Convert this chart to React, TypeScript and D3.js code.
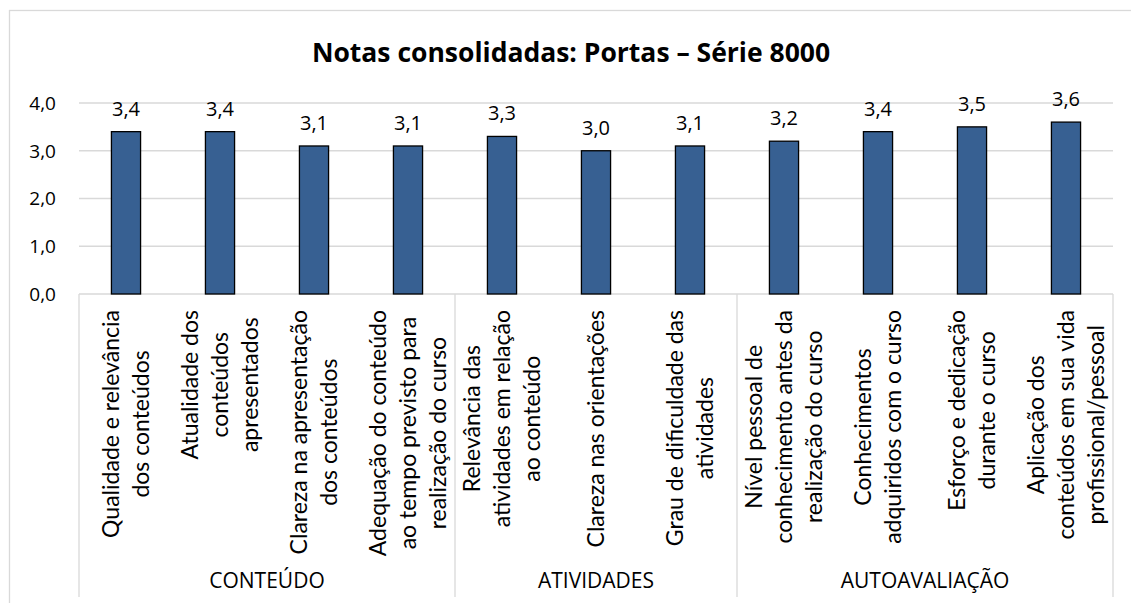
import React, { useEffect, useRef } from 'react';
import * as d3 from 'd3';

const title = 'Notas consolidadas: Portas – Série 8000';

const groups = ['CONTEÚDO', 'ATIVIDADES', 'AUTOAVALIAÇÃO'];

const categoryLines = [
  ['Qualidade e relevância', 'dos conteúdos'],
  ['Atualidade dos', 'conteúdos', 'apresentados'],
  ['Clareza na apresentação', 'dos conteúdos'],
  ['Adequação do conteúdo', 'ao tempo previsto para', 'realização do curso'],
  ['Relevância das', 'atividades em relação', 'ao conteúdo'],
  ['Clareza nas orientações'],
  ['Grau de dificuldade das', 'atividades'],
  ['Nível pessoal de', 'conhecimento antes da', 'realização do curso'],
  ['Conhecimentos', 'adquiridos com o curso'],
  ['Esforço e dedicação', 'durante o curso'],
  ['Aplicação dos', 'conteúdos em sua vida', 'profissional/pessoal'],
];

const categoryGroup = [0, 0, 0, 0, 1, 1, 1, 2, 2, 2, 2];

const values = [3.4, 3.4, 3.1, 3.1, 3.3, 3.0, 3.1, 3.2, 3.4, 3.5, 3.6];

const yTicks = [0, 1, 2, 3, 4];

const fmt = (v: number) => v.toFixed(1).replace('.', ',');

const HFONT = '"Open Sans", sans-serif';
const VFONT = 'Lato, sans-serif';

export default function App() {
  const ref = useRef<SVGSVGElement | null>(null);

  useEffect(() => {
    const svg = d3.select(ref.current);
    svg.selectAll('*').remove();

    const width = 1131, height = 603;
    const left = 79, right = 1113, top = 103, bottom = 294;

    // chart frame (right and bottom edges fall outside the picture)
    svg.append('rect')
      .attr('x', 9.5).attr('y', 10.5)
      .attr('width', width + 20).attr('height', height + 20)
      .attr('fill', '#fff').attr('stroke', '#d9d9d9').attr('stroke-width', 1.3);

    svg.append('text')
      .attr('x', 571).attr('y', 62)
      .attr('text-anchor', 'middle')
      .style('font', `bold 26.5px ${HFONT}`)
      .attr('fill', '#000')
      .text(title);

    const y = d3.scaleLinear().domain([0, 4]).range([bottom, top]);
    const x = d3.scaleBand<number>()
      .domain(values.map((_, i) => i))
      .range([left, right])
      .paddingInner(0.69)
      .paddingOuter(0.345);
    const step = x.step();

    // gridlines
    svg.append('g').selectAll('line')
      .data(yTicks.slice(1))
      .enter().append('line')
        .attr('x1', left).attr('x2', right)
        .attr('y1', d => y(d)).attr('y2', d => y(d))
        .attr('stroke', '#d9d9d9').attr('stroke-width', 1.3);

    svg.append('g').selectAll('text')
      .data(yTicks)
      .enter().append('text')
        .attr('x', 56)
        .attr('y', d => y(d))
        .attr('dy', '0.36em')
        .attr('text-anchor', 'end')
        .style('font', `19px ${HFONT}`)
        .attr('fill', '#000')
        .text(d => fmt(d));

    // category axis: baseline and group separators
    svg.append('line')
      .attr('x1', left).attr('x2', right)
      .attr('y1', bottom).attr('y2', bottom)
      .attr('stroke', '#d9d9d9').attr('stroke-width', 1.3);

    const bounds = [0];
    categoryGroup.forEach((g, i) => {
      if (i === categoryGroup.length - 1 || categoryGroup[i + 1] !== g) bounds.push(i + 1);
    });
    svg.append('g').selectAll('line')
      .data(bounds)
      .enter().append('line')
        .attr('x1', d => left + d * step).attr('x2', d => left + d * step)
        .attr('y1', bottom).attr('y2', 597)
        .attr('stroke', '#d9d9d9').attr('stroke-width', 1.3);

    svg.append('g').selectAll('text')
      .data(groups)
      .enter().append('text')
        .attr('x', (d, i) => left + (bounds[i] + bounds[i + 1]) / 2 * step)
        .attr('y', 588)
        .attr('text-anchor', 'middle')
        .style('font', `21px ${HFONT}`)
        .attr('fill', '#000')
        .text(d => d);

    // bars
    svg.append('g').selectAll('rect')
      .data(values)
      .enter().append('rect')
        .attr('x', (d, i) => x(i)!)
        .attr('y', d => y(d))
        .attr('width', x.bandwidth())
        .attr('height', d => bottom - y(d))
        .attr('fill', '#376092')
        .attr('stroke', '#000')
        .attr('stroke-width', 1.3);

    svg.append('g').selectAll('text')
      .data(values)
      .enter().append('text')
        .attr('x', (d, i) => x(i)! + x.bandwidth() / 2)
        .attr('y', d => y(d) - 16)
        .attr('text-anchor', 'middle')
        .style('font', `20px ${HFONT}`)
        .attr('fill', '#000')
        .text(d => fmt(d));

    // rotated category labels, lines centred, block starting under the axis
    const lineGap = 30;
    categoryLines.forEach((lines, i) => {
      const cx = x(i)! + x.bandwidth() / 2;
      const g = svg.append('g');
      const texts = g.selectAll('text')
        .data(lines)
        .enter().append('text')
          .attr('x', 0)
          .attr('y', (d, j) => (j - (lines.length - 1) / 2) * lineGap)
          .attr('dy', '0.36em')
          .attr('text-anchor', 'middle')
          .style('font', `23px ${VFONT}`)
          .attr('fill', '#000')
          .text(d => d);
      let maxLen = 0;
      texts.each(function () {
        maxLen = Math.max(maxLen, (this as SVGTextElement).getComputedTextLength());
      });
      g.attr('transform', `translate(${cx},${310 + maxLen / 2}) rotate(-90)`);
    });
  }, []);

  return (
    <svg ref={ref} width={1131} height={603}
      style={{ position: 'absolute', left: 0, top: 0, background: '#fff' }} />
  );
}
